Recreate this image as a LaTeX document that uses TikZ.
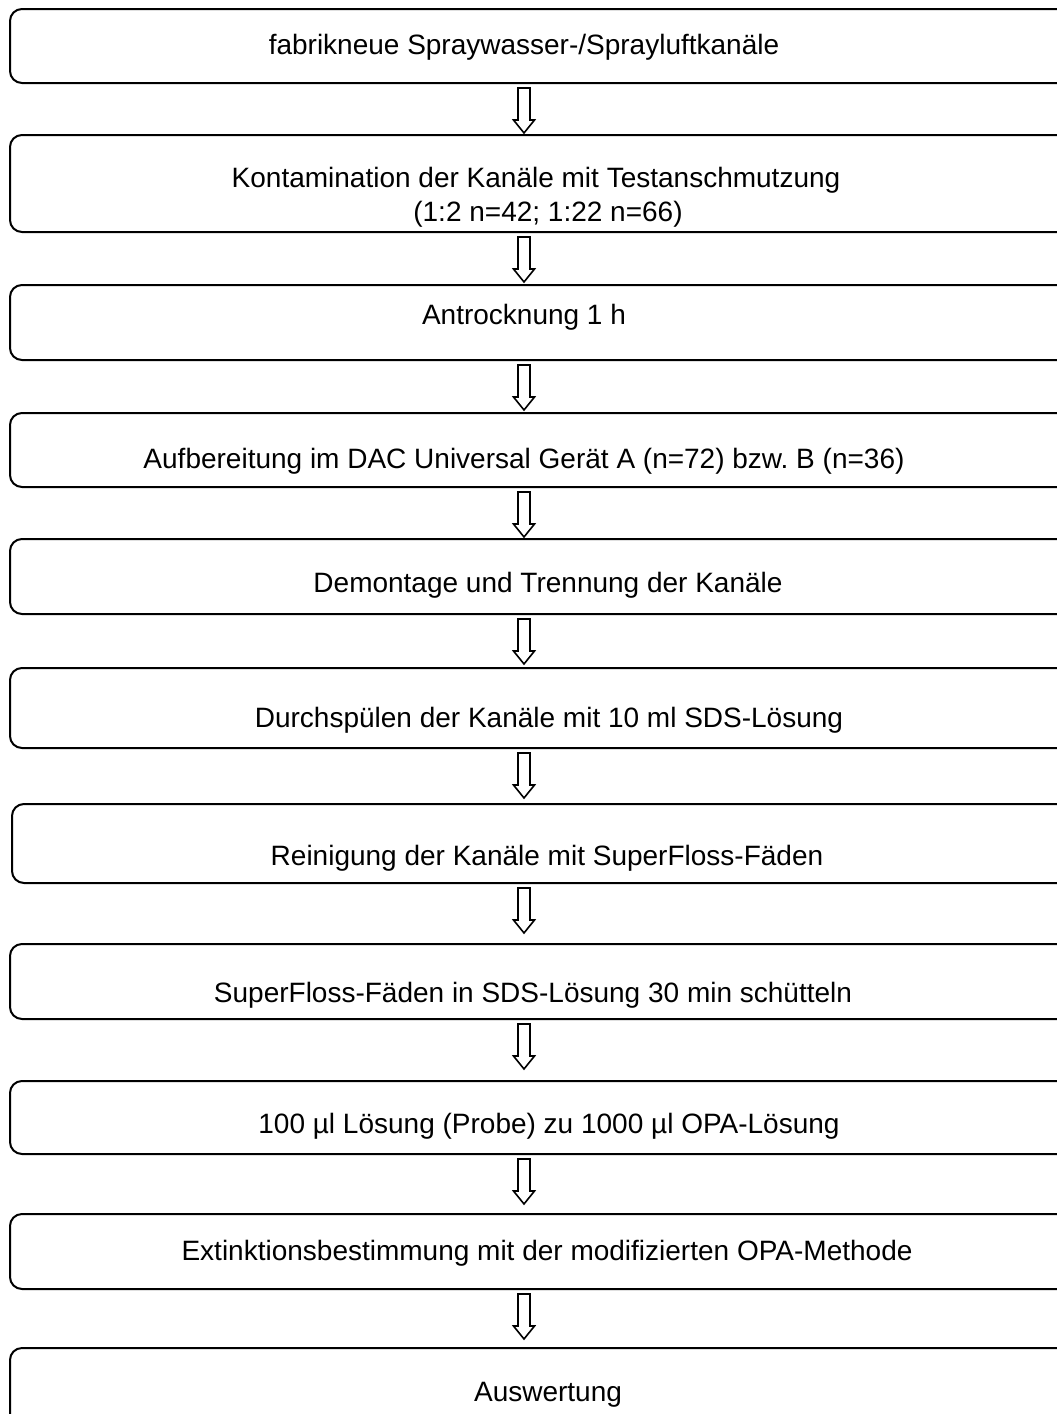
\documentclass[tikz,border=0pt]{standalone}
\usepackage{fontspec}
\setmainfont{Liberation Sans}
\usetikzlibrary{calc}
\frenchspacing
\tikzset{
  box/.style={draw, line width=2pt, rounded corners=12pt, anchor=north west, inner sep=0pt, minimum width=1061pt},
  txt/.style={anchor=base, inner sep=0pt, font=\fontsize{28}{33}\selectfont},
  harr/.style={draw, line width=1.6pt, fill=white, line join=miter},
}
\newcommand{\hollowdown}[1]{%
  \draw[harr] ($(#1)+(-6,6)$) -- ++(12,0) -- ++(0,32) -- ++(4.5,0) -- ++(-10.5,13) -- ++(-10.5,-13) -- ++(4.5,0) -- cycle;}
\begin{document}
\begin{tikzpicture}[x=1pt,y=-1pt]
\useasboundingbox (0,0) rectangle (1057,1414);
% boxes
\node[box, minimum height=74pt] (b1) at (9,8) {};
\node[box, minimum height=97pt] (b2) at (9,134) {};
\node[box, minimum height=75pt] (b3) at (9,284) {};
\node[box, minimum height=74pt] (b4) at (9,412) {};
\node[box, minimum height=75pt] (b5) at (9,538) {};
\node[box, minimum height=80pt] (b6) at (9,667) {};
\node[box, minimum height=79pt] (b7) at (11,803) {};
\node[box, minimum height=75pt] (b8) at (9,943) {};
\node[box, minimum height=73pt] (b9) at (9,1080) {};
\node[box, minimum height=75pt] (b10) at (9,1213) {};
\node[box, minimum height=90pt] (b11) at (9,1347) {};
% texts
\node[txt] (t1) at (524,54) {fabrikneue Spraywasser-/Sprayluftkanäle};
\node[txt] (t2) at (536,187) {Kontamination der Kanäle mit Testanschmutzung};
\node[txt] (t2b) at (548,221) {(1:2 n=42; 1:22 n=66)};
\node[txt] (t3) at (524,324) {Antrocknung 1 h};
\node[txt] (t4) at (524,468) {Aufbereitung im DAC Universal Gerät A (n=72) bzw. B (n=36)};
\node[txt] (t5) at (548,592) {Demontage und Trennung der Kanäle};
\node[txt] (t6) at (549,727) {Durchspülen der Kanäle mit 10 ml SDS-Lösung};
\node[txt] (t7) at (547,865) {Reinigung der Kanäle mit SuperFloss-Fäden};
\node[txt] (t8) at (533,1002) {SuperFloss-Fäden in SDS-Lösung 30 min schütteln};
\node[txt] (t9) at (549,1133) {100 µl Lösung (Probe) zu 1000 µl OPA-Lösung};
\node[txt] (t10) at (547,1260) {Extinktionsbestimmung mit der modifizierten OPA-Methode};
\node[txt] (t11) at (548,1401) {Auswertung};
% arrows
\coordinate (a1) at (524,82);
\coordinate (a2) at (524,231);
\coordinate (a3) at (524,359);
\coordinate (a4) at (524,486);
\coordinate (a5) at (524,613);
\coordinate (a6) at (524,747);
\coordinate (a7) at (524,882);
\coordinate (a8) at (524,1018);
\coordinate (a9) at (524,1153);
\coordinate (a10) at (524,1288);
\foreach \i in {1,...,10} {\hollowdown{a\i}}
\end{tikzpicture}
\end{document}
